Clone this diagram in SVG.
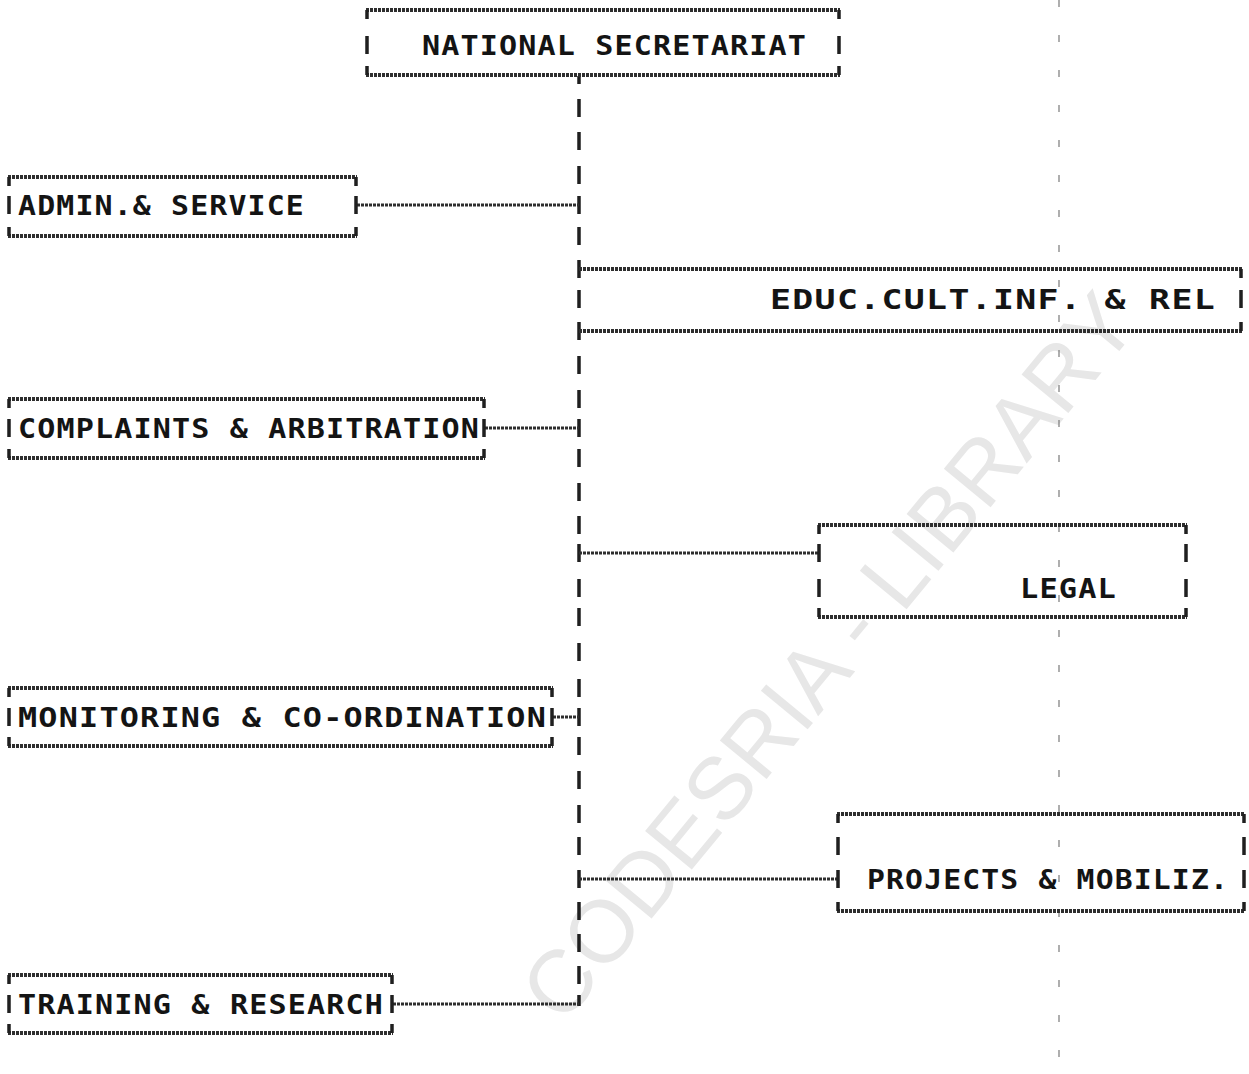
<svg xmlns="http://www.w3.org/2000/svg" width="1249" height="1074" viewBox="0 0 1249 1074">
<style>
.bg{fill:#ffffff}
.wm{font-family:"Liberation Sans",Arial,sans-serif;font-size:88px;fill:#e7e7e7}
.fold{stroke:#7a7a7a;stroke-width:1.2;stroke-dasharray:7 28;fill:none}
.hl{stroke:#2e2e2e;stroke-width:4;stroke-dasharray:3 1;fill:none}
.cn{stroke:#2e2e2e;stroke-width:3.2;stroke-dasharray:3 1;fill:none}
.vl{stroke:#1f1f1f;stroke-width:3.5;fill:none}
.lbl{font-family:"DejaVu Sans Mono","Liberation Mono",monospace;font-weight:bold;font-size:26px;letter-spacing:1px;fill:#141414}
</style>
<rect class="bg" x="0" y="0" width="1249" height="1074"/>
<g id="watermark">
<text class="wm" x="828" y="656" text-anchor="middle" dy="0.35em" transform="rotate(-50.5 828 656)">CODESRIA - LIBRARY</text>
</g>
<g id="fold-line">
<path class="fold" d="M1059 0 V1074"/>
</g>
<g id="connectors">
<path class="vl" d="M579 76 V84 M579 99 V117 M579 132 V150 M579 166 V184 M579 196 V214 M579 227 V245 M579 260 V278 M579 290 V308 M579 322 V340 M579 356 V374 M579 390 V408 M579 419 V437 M579 449 V467 M579 483 V501 M579 516 V534 M579 544 V562 M579 579 V597 M579 608 V626 M579 643 V661 M579 679 V697 M579 708 V726 M579 737 V755 M579 771 V789 M579 805 V823 M579 837 V855 M579 870 V888 M579 902 V920 M579 934 V952 M579 966 V984 M579 995 V1006"/>
<path class="cn" d="M357 205 H579"/>
<path class="cn" d="M485 428 H579"/>
<path class="cn" d="M579 553 H818"/>
<path class="cn" d="M553 717 H579"/>
<path class="cn" d="M579 879 H837"/>
<path class="cn" d="M393 1004 H579"/>
</g>
<g id="national-secretariat">
<path class="hl" d="M366 10 H840 M366 75 H840"/>
<path class="vl" d="M367 10 V19 M839 10 V19 M367 36 V54 M839 36 V54 M367 66 V75 M839 66 V75"/>
<text class="lbl" x="422" y="54.5" textLength="385" lengthAdjust="spacingAndGlyphs">NATIONAL SECRETARIAT</text>
</g>
<g id="admin-service">
<path class="hl" d="M8 177 H357 M8 236 H357"/>
<path class="vl" d="M9 177 V186 M356 177 V186 M9 196 V214 M356 196 V214 M9 227 V236 M356 227 V236"/>
<text class="lbl" x="18" y="214.5" textLength="287" lengthAdjust="spacingAndGlyphs">ADMIN.&amp; SERVICE</text>
</g>
<g id="educ-cult-inf-rel">
<path class="hl" d="M579 269 H1243 M579 331 H1243"/>
<path class="vl" d="M1241 269 V278 M1241 290 V308 M1241 322 V331"/>
<text class="lbl" x="770" y="308.5" textLength="446" lengthAdjust="spacingAndGlyphs">EDUC.CULT.INF. &amp; REL</text>
</g>
<g id="complaints-arbitration">
<path class="hl" d="M8 399 H485 M8 458 H485"/>
<path class="vl" d="M9 399 V408 M484 399 V408 M9 419 V437 M484 419 V437 M9 449 V458 M484 449 V458"/>
<text class="lbl" x="18" y="437.5" textLength="462" lengthAdjust="spacingAndGlyphs">COMPLAINTS &amp; ARBITRATION</text>
</g>
<g id="legal">
<path class="hl" d="M818 525 H1187 M818 617 H1187"/>
<path class="vl" d="M819 525 V534 M1186 525 V534 M819 544 V562 M1186 544 V562 M819 579 V597 M1186 579 V597 M819 608 V617 M1186 608 V617"/>
<text class="lbl" x="1020" y="597.5" textLength="97" lengthAdjust="spacingAndGlyphs">LEGAL</text>
</g>
<g id="monitoring-coordination">
<path class="hl" d="M8 688 H553 M8 746 H553"/>
<path class="vl" d="M9 688 V697 M552 688 V697 M9 708 V726 M552 708 V726 M9 737 V746 M552 737 V746"/>
<text class="lbl" x="18" y="726.5" textLength="529" lengthAdjust="spacingAndGlyphs">MONITORING &amp; CO-ORDINATION</text>
</g>
<g id="projects-mobiliz">
<path class="hl" d="M837 814 H1245 M837 911 H1245"/>
<path class="vl" d="M838 814 V823 M1244 814 V823 M838 837 V855 M1244 837 V855 M838 870 V888 M1244 870 V888 M838 902 V911 M1244 902 V911"/>
<text class="lbl" x="867" y="888.5" textLength="362" lengthAdjust="spacingAndGlyphs">PROJECTS &amp; MOBILIZ.</text>
</g>
<g id="training-research">
<path class="hl" d="M8 975 H393 M8 1033 H393"/>
<path class="vl" d="M9 975 V984 M392 975 V984 M9 995 V1013 M392 995 V1013 M9 1024 V1033 M392 1024 V1033"/>
<text class="lbl" x="18" y="1013.5" textLength="366" lengthAdjust="spacingAndGlyphs">TRAINING &amp; RESEARCH</text>
</g>
</svg>
